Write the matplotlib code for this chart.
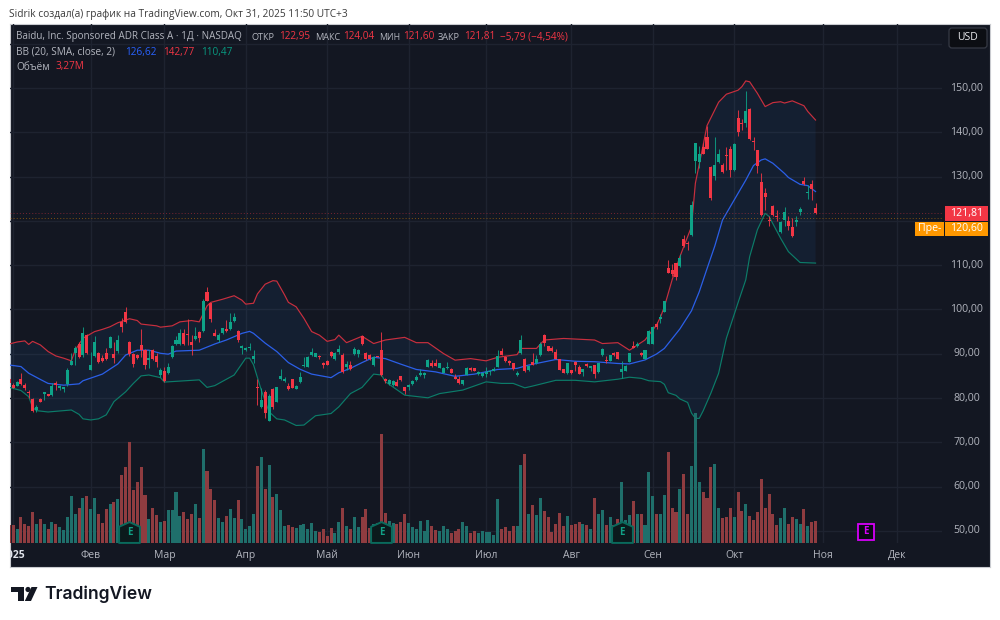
import numpy as np
import matplotlib
matplotlib.use('Agg')
import matplotlib.pyplot as plt
from matplotlib.patches import Rectangle, Polygon, FancyBboxPatch, Circle
from matplotlib.path import Path

plt.rcParams['font.family'] = ['Open Sans', 'DejaVu Sans']

# daily candles, Dec 31 2024 .. Oct 30 2025
opens = [84.3, 82.9, 82.8, 84.4, 82.9, 81.4, 79.7, 77.2, 79.8, 81.0,
         80.9, 80.6, 83.5, 82.2, 82.1, 83.2, 87.5, 90.1, 92.2, 89.7,
         94.3, 86.3, 89.6, 90.1, 89.0, 90.1, 91.4, 89.9, 90.7, 97.2,
         99.5, 92.6, 89.9, 89.8, 92.0, 90.8, 88.6, 90.8, 89.5, 85.2,
         86.2, 85.7, 89.3, 92.2, 92.2, 94.6, 94.4, 92.6, 93.4, 95.0,
         95.1, 104.0, 101.4, 94.6, 93.2, 94.6, 95.6, 95.5, 97.5, 95.1,
         91.2, 90.8, 91.2, 88.7, 82.6, 78.0, 81.4, 74.8, 82.0, 79.0,
         84.2, 83.9, 82.7, 84.3, 82.1, 83.6, 87.2, 86.9, 89.7, 89.3,
         89.4, 88.0, 88.4, 90.5, 88.7, 90.5, 89.8, 86.9, 87.4, 89.9,
         89.9, 94.0, 90.1, 89.8, 87.4, 89.4, 90.8, 84.4, 83.1, 82.9,
         83.7, 84.9, 82.5, 82.4, 83.1, 84.0, 85.2, 85.2, 87.05, 87.8,
         88.0, 86.8, 85.7, 86.7, 86.6, 84.8, 84.3, 83.1, 85.2, 86.8,
         86.7, 85.4, 85.0, 85.5, 85.8, 86.2, 87.05, 90.7, 89.3, 88.3,
         87.8, 85.1, 90.1, 88.9, 86.3, 88.1, 87.8, 89.7, 94.3, 91.7,
         91.2, 90.4, 88.7, 86.5, 85.7, 86.3, 88.2, 87.05, 85.9, 87.65,
         86.7, 87.4, 85.85, 89.7, 88.6, 88.4, 90.2, 90.4, 85.85, 86.2,
         88.2, 91.8, 91.7, 90.1, 88.9, 92.2, 92.2, 96.7, 97.8, 99.5,
         109.3, 108.9, 110.4, 109.7, 115.8, 115.0, 116.7, 133.5, 133.4, 136.6,
         139.0, 132.2, 130.1, 133.2, 132.7, 134.8, 136.2, 131.5, 143.3, 142.1,
         142.2, 145.2, 138.0, 136.0, 128.8, 126.4, 120.1, 123.4, 121.0, 117.4,
         120.2, 120.0, 118.7, 119.8, 122.1, 128.9, 126.2, 128.3, 122.95]
closes = [83.3, 82.3, 83.7, 83.1, 82.2, 81.1, 77.1, 78.0, 79.2, 81.3,
          80.5, 82.8, 82.9, 82.7, 82.4, 86.3, 88.3, 91.4, 89.2, 94.6,
          90.1, 87.5, 92.6, 88.2, 88.4, 88.8, 93.7, 89.0, 93.2, 96.1,
          97.2, 89.9, 87.7, 89.0, 90.8, 87.5, 89.0, 88.8, 88.1, 86.3,
          83.9, 86.9, 91.8, 93.2, 94.6, 92.2, 94.2, 92.0, 94.1, 93.5,
          102.0, 102.0, 97.8, 94.0, 94.2, 95.7, 95.1, 97.2, 98.2, 93.1,
          91.8, 91.4, 91.6, 89.6, 82.2, 79.6, 76.6, 80.5, 78.0, 82.4,
          85.0, 84.4, 82.0, 82.3, 82.8, 84.8, 87.4, 89.2, 90.5, 90.1,
          89.2, 87.5, 87.5, 89.5, 90.1, 91.0, 85.9, 87.65, 86.6, 91.0,
          90.8, 92.1, 88.8, 88.8, 89.2, 89.3, 85.2, 83.8, 84.0, 83.8,
          82.8, 84.0, 81.5, 83.0, 83.8, 84.8, 85.7, 85.7, 88.6, 87.2,
          87.3, 87.8, 86.7, 87.05, 85.7, 84.3, 83.3, 84.0, 86.7, 86.3,
          86.1, 85.85, 85.7, 85.9, 86.2, 86.5, 89.5, 89.8, 88.3, 88.0,
          86.5, 85.7, 93.2, 86.1, 87.3, 87.5, 88.7, 92.3, 92.5, 90.7,
          90.6, 88.9, 86.4, 85.7, 87.8, 85.7, 87.4, 85.5, 86.45, 87.3,
          87.2, 85.5, 87.8, 91.0, 88.3, 89.7, 89.8, 88.8, 86.5, 87.3,
          90.1, 91.4, 92.2, 89.7, 90.8, 95.1, 96.1, 96.0, 98.2, 101.8,
          108.3, 108.0, 107.3, 111.6, 114.4, 114.7, 123.6, 137.5, 135.1, 135.1,
          136.3, 125.1, 132.7, 135.2, 131.1, 134.6, 131.5, 137.3, 140.0, 141.9,
          144.7, 138.5, 137.8, 132.3, 121.3, 125.4, 119.9, 121.3, 120.8, 119.8,
          122.0, 118.9, 116.6, 120.3, 122.6, 128.3, 126.6, 127.3, 121.81]
highs = [84.6, 83.3, 83.8, 85.6, 83.3, 81.7, 79.9, 78.4, 80.1, 81.4,
         81.0, 83.3, 83.9, 82.9, 82.6, 86.7, 90.1, 91.7, 92.7, 96.1,
         94.5, 90.5, 94.1, 90.4, 89.7, 91.4, 94.0, 92.7, 94.2, 98.0,
         100.5, 92.8, 90.1, 89.9, 95.5, 91.0, 90.8, 91.1, 90.1, 86.7,
         87.1, 87.8, 92.0, 93.9, 95.5, 95.5, 97.9, 94.2, 96.1, 95.1,
         102.3, 105.0, 101.5, 95.5, 94.6, 95.8, 97.6, 99.3, 99.3, 95.4,
         92.0, 91.6, 92.5, 90.8, 84.3, 82.2, 81.7, 81.0, 82.2, 82.6,
         86.5, 84.8, 83.5, 84.4, 82.9, 85.9, 89.2, 89.5, 91.4, 90.2,
         89.8, 88.2, 88.5, 90.6, 90.3, 92.0, 90.1, 88.3, 88.3, 91.6,
         91.1, 94.3, 90.3, 90.0, 89.4, 89.5, 94.8, 84.6, 84.4, 84.1,
         84.2, 85.0, 82.6, 83.2, 84.0, 85.1, 86.5, 85.9, 88.9, 88.6,
         88.9, 88.0, 86.9, 88.2, 86.8, 85.5, 85.0, 84.1, 86.9, 87.0,
         86.8, 86.0, 85.8, 87.0, 86.4, 87.0, 90.8, 91.4, 89.4, 88.6,
         87.9, 86.0, 94.2, 89.0, 87.5, 90.2, 89.8, 92.6, 94.4, 91.8,
         91.7, 91.0, 88.8, 86.6, 88.0, 86.4, 88.3, 87.5, 86.5, 88.0,
         87.3, 87.5, 87.9, 91.2, 89.4, 89.8, 90.5, 90.5, 88.3, 87.4,
         90.2, 92.9, 92.6, 90.4, 90.9, 95.3, 96.2, 97.2, 99.0, 102.0,
         111.2, 110.2, 110.5, 112.5, 116.9, 115.5, 124.5, 137.6, 136.9, 137.5,
         141.5, 132.4, 139.0, 136.3, 133.0, 136.6, 136.8, 137.5, 145.0, 143.0,
         149.3, 145.4, 139.0, 136.1, 130.8, 127.5, 121.2, 123.6, 122.5, 120.0,
         123.2, 121.0, 120.6, 121.2, 123.2, 129.8, 128.0, 129.2, 124.04]
lows = [83.0, 82.2, 82.7, 83.0, 81.7, 79.9, 76.9, 76.9, 79.1, 79.6,
        80.4, 80.5, 81.7, 81.7, 81.4, 82.7, 87.4, 87.5, 89.1, 89.2,
        89.9, 86.3, 89.3, 88.0, 88.2, 88.6, 91.2, 88.0, 90.2, 94.8,
        97.0, 89.6, 86.9, 88.9, 89.3, 86.6, 86.7, 88.6, 87.1, 84.8,
        83.7, 85.4, 89.1, 92.0, 92.0, 92.0, 92.0, 89.7, 93.1, 92.7,
        95.0, 101.8, 97.2, 93.9, 92.7, 94.5, 95.0, 95.4, 97.2, 92.6,
        89.9, 90.7, 90.8, 87.8, 78.4, 77.7, 75.4, 74.8, 77.5, 79.0,
        84.1, 83.7, 81.7, 82.2, 82.0, 83.5, 86.9, 86.9, 89.5, 89.2,
        88.8, 86.8, 87.4, 89.3, 88.6, 90.0, 85.7, 86.3, 86.4, 89.7,
        89.2, 92.0, 88.6, 88.5, 87.3, 89.2, 85.0, 83.3, 82.9, 82.8,
        82.7, 83.9, 81.0, 81.7, 83.0, 83.9, 84.9, 84.5, 87.0, 87.1,
        87.2, 86.7, 85.6, 86.5, 85.6, 84.2, 83.2, 83.0, 85.1, 86.2,
        86.0, 85.2, 84.7, 84.8, 85.1, 86.0, 87.0, 89.7, 88.2, 87.5,
        86.4, 85.0, 90.0, 85.8, 86.1, 87.4, 87.7, 89.6, 91.8, 90.6,
        90.5, 88.8, 86.3, 85.6, 85.5, 85.5, 86.0, 85.4, 85.0, 87.0,
        86.0, 84.5, 85.7, 89.6, 88.0, 88.3, 89.5, 88.7, 84.6, 86.1,
        88.1, 91.3, 91.6, 89.4, 88.8, 92.1, 92.1, 95.6, 97.0, 99.4,
        108.2, 107.5, 106.7, 109.5, 114.2, 113.4, 116.6, 130.8, 132.0, 135.0,
        136.2, 124.8, 129.2, 133.0, 130.9, 131.5, 130.0, 131.3, 139.2, 140.5,
        141.2, 138.3, 136.1, 130.7, 121.0, 122.5, 118.9, 121.0, 119.9, 117.3,
        118.8, 118.0, 116.3, 118.8, 121.3, 128.0, 125.0, 124.8, 121.60]

# volume in millions
volumes = [2.7, 2.7, 2.1, 3.9, 2.8, 2.6, 4.7, 2.9, 3.6, 2.8,
           2.1, 3.1, 2.8, 2.4, 2.0, 3.9, 7.0, 4.4, 5.2, 6.7,
           7.0, 5.1, 6.7, 4.4, 3.0, 5.1, 5.8, 6.2, 6.6, 10.1,
           11.3, 15.0, 7.9, 9.1, 11.4, 7.2, 3.6, 5.3, 4.2, 3.2,
           3.3, 4.9, 4.9, 7.7, 4.1, 4.6, 3.6, 4.4, 5.8, 3.8,
           14.0, 10.7, 8.0, 6.4, 3.8, 3.2, 4.1, 5.1, 3.8, 6.4,
           3.6, 2.2, 2.6, 4.4, 11.5, 12.8, 8.1, 11.6, 6.9, 7.3,
           5.0, 2.6, 2.7, 2.4, 2.3, 2.7, 2.9, 2.1, 3.0, 1.8,
           1.7, 2.2, 1.1, 2.3, 1.6, 3.1, 5.2, 2.6, 2.1, 3.9,
           2.4, 3.9, 5.1, 2.3, 2.8, 3.0, 16.2, 4.5, 3.3, 3.0,
           2.9, 3.2, 4.4, 3.0, 2.4, 2.1, 3.3, 1.8, 3.5, 2.5,
           2.0, 1.8, 2.5, 2.2, 1.6, 1.8, 2.2, 3.2, 2.6, 1.5,
           1.8, 1.6, 1.8, 1.7, 1.7, 1.2, 6.6, 2.1, 2.4, 1.8,
           2.5, 2.5, 11.7, 13.3, 4.4, 5.7, 4.2, 6.8, 4.8, 3.9,
           1.7, 2.9, 4.5, 2.6, 4.1, 2.7, 2.8, 3.2, 2.9, 2.7,
           2.1, 6.8, 4.4, 4.9, 2.7, 3.9, 2.7, 3.6, 9.1, 3.5,
           4.2, 6.3, 4.4, 4.3, 2.7, 10.6, 7.0, 4.3, 4.3, 7.2,
           13.5, 5.2, 4.7, 8.1, 10.3, 4.3, 11.5, 19.3, 9.1, 7.6,
           6.8, 11.3, 11.8, 5.2, 3.7, 3.9, 5.3, 3.9, 7.6, 4.8,
           5.9, 4.1, 3.4, 4.6, 9.5, 5.2, 7.4, 4.4, 2.7, 3.8,
           5.2, 2.8, 3.9, 3.6, 2.9, 5.1, 2.5, 3.2, 3.27]

# Bollinger bands: (bar number, value) as read at the bends of each line
bb_upper_k = [0, 2, 4, 5, 6, 8, 10, 12, 14, 16, 17, 19, 22, 24, 26, 28, 31, 33, 34, 38,
              39, 42, 44, 47, 49, 51, 52, 55, 58, 60, 61, 63, 64, 66, 68, 69, 71, 72, 74, 76,
              78, 80, 82, 84, 85, 87, 91, 94, 97, 102, 105, 108, 112, 115, 119, 123, 126, 131, 132, 136,
              138, 143, 151, 153, 157, 160, 164, 167, 168, 169, 171, 173, 174, 176, 177, 179, 180, 183, 185, 188,
              189, 190, 191, 193, 195, 197, 199, 200, 202, 205, 206, 208]
bb_upper = [92.2, 92.65, 92.9, 92.1, 92.8, 92.0, 90.5, 89.5, 89.0, 88.4, 90.8, 93.5, 95.0, 95.5, 96.1, 97.0, 97.9, 97.5, 96.7, 96.3,
            96.0, 96.3, 97.2, 97.5, 97.2, 100.8, 101.6, 102.3, 103.1, 102.1, 101.2, 101.4, 103.5, 105.7, 106.5, 106.4, 103.3, 101.6, 100.6, 98.0,
            95.0, 94.2, 92.8, 93.2, 94.2, 92.5, 93.95, 92.3, 93.1, 93.7, 92.5, 92.5, 90.05, 88.55, 88.9, 88.4, 89.2, 89.8, 91.2, 91.2,
            93.1, 93.45, 93.1, 92.3, 92.5, 90.8, 93.1, 96.5, 98.3, 100.6, 106.7, 111.9, 114.2, 118.7, 128.5, 137.1, 141.5, 146.8, 148.6, 149.5,
            150.3, 151.6, 151.4, 148.8, 145.8, 146.7, 146.9, 146.6, 147.1, 146.0, 144.7, 142.77]
bb_mid_k = [0, 3, 5, 8, 10, 14, 18, 19, 24, 28, 30, 33, 36, 39, 41, 43, 49, 53, 56, 60,
            62, 63, 66, 69, 72, 75, 78, 83, 85, 88, 91, 94, 97, 101, 105, 110, 115, 120, 126, 131,
            134, 141, 146, 151, 157, 160, 164, 167, 169, 173, 176, 178, 180, 182, 184, 187, 190, 192, 194, 195,
            197, 200, 201, 204, 206, 208]
bb_mid = [87.45, 87.1, 85.6, 84.2, 83.3, 82.9, 83.2, 83.9, 85.4, 87.7, 89.7, 90.8, 90.8, 90.1, 89.9, 90.6, 90.8, 92.2, 93.1, 94.6,
          95.05, 94.6, 92.4, 90.5, 88.0, 86.5, 85.4, 84.6, 85.7, 86.7, 88.0, 89.2, 88.9, 87.65, 86.45, 85.9, 84.9, 85.4, 86.45, 86.7,
          87.45, 88.7, 88.3, 88.2, 87.8, 87.7, 88.6, 89.95, 91.2, 95.6, 99.7, 104.0, 109.2, 114.3, 120.2, 124.7, 129.2, 132.5, 133.75, 134.0,
          133.0, 130.7, 129.8, 128.25, 127.95, 126.62]
bb_lower_k = [0, 3, 5, 6, 7, 10, 16, 18, 19, 21, 23, 25, 27, 30, 32, 34, 36, 39, 40, 49,
              51, 53, 58, 61, 62, 63, 65, 67, 69, 71, 74, 76, 79, 83, 85, 88, 91, 94, 96, 97,
              102, 108, 111, 117, 123, 127, 130, 133, 135, 141, 146, 151, 157, 160, 163, 165, 168, 169, 170, 172,
              173, 175, 176, 177, 178, 179, 181, 183, 185, 188, 190, 191, 193, 195, 196, 199, 201, 204, 208]
bb_lower = [82.4, 81.7, 80.3, 77.9, 77.15, 76.85, 77.3, 76.3, 75.3, 75.05, 75.3, 76.2, 79.2, 81.4, 83.3, 85.0, 85.2, 84.6, 83.6, 84.1,
            82.4, 82.8, 85.2, 89.0, 89.0, 87.5, 81.8, 76.9, 75.3, 75.05, 73.8, 73.9, 76.0, 76.5, 78.0, 81.0, 82.4, 85.4, 85.2, 83.7,
            80.65, 80.05, 81.0, 81.8, 83.65, 83.3, 83.3, 82.3, 82.7, 84.0, 84.0, 83.65, 84.25, 84.7, 84.45, 83.9, 83.7, 83.1, 81.2, 80.6,
            79.8, 79.0, 76.6, 75.4, 75.4, 77.1, 81.1, 85.6, 93.5, 101.5, 106.7, 111.9, 118.0, 121.7, 121.0, 116.06, 113.05, 110.6, 110.47]

month_k = [1, 21, 40, 61, 82, 103, 123, 145, 166, 187, 210, 229]
month_labels = ['2025', 'Фев', 'Мар', 'Апр', 'Май', 'Июн', 'Июл', 'Авг', 'Сен', 'Окт', 'Ноя', 'Дек']
price_ticks = [50, 60, 70, 80, 90, 100, 110, 130, 140, 150]
last_close = 121.81
pre_market = 120.60
earnings_k = [31, 96, 158]
next_earnings_k = 221

BG = '#131722'
RED = '#f23645'
GREEN = '#089981'
BLUE = '#2962ff'
GRID = '#1e2330'

W, H = 1000, 620
fig = plt.figure(figsize=(10, 6.2), dpi=100, facecolor='white')


def box(x0, y0, x1, y1):
    # pixel box (y from the top) to figure fractions
    return [x0 / W, 1 - y1 / H, (x1 - x0) / W, (y1 - y0) / H]


k = np.arange(len(closes))
o, c, hi, lo, vol = map(np.array, (opens, closes, highs, lows, volumes))
up = c >= o

# one bar is 3.876 px, bar 0 sits at x=9.33
x_min, x_max = (10 - 9.33) / 3.876, (942 - 9.33) / 3.876

panel = fig.add_axes(box(9.5, 24, 990.5, 567), facecolor=BG)
panel.set_xticks([])
panel.set_yticks([])
for s in panel.spines.values():
    s.set_color('#c9cbd0')
    s.set_linewidth(0.8)

ax = fig.add_axes(box(10, 24, 942, 543.3), facecolor='none')
ax.set_xlim(x_min, x_max)
ax.set_ylim(47.2, 164.45)
ax.axis('off')
for m in month_k:
    ax.axvline(m, color=GRID, lw=1, zorder=1)
for p in range(50, 170, 10):
    ax.axhline(p, color=GRID, lw=1, zorder=1)

# band fill, then the three lines
ax.fill(np.r_[bb_upper_k, bb_lower_k[::-1]], np.r_[bb_upper, bb_lower[::-1]],
        color='#2a7fd0', alpha=0.085, lw=0, zorder=2)
ax.plot(bb_upper_k, bb_upper, color='#c92f3e', lw=0.85, zorder=3)
ax.plot(bb_lower_k, bb_lower, color='#0c7c69', lw=0.85, zorder=3)
ax.plot(bb_mid_k, bb_mid, color='#2b5fe8', lw=0.9, zorder=3)

# last price and premarket lines
ax.axhline(last_close, color=RED, lw=0.7, ls=(0, (1, 2.2)), alpha=0.45, zorder=3)
ax.axhline(pre_market, color='#ff9800', lw=0.7, ls=(0, (1, 2.2)), alpha=0.45, zorder=3)

colors = np.where(up, '#0ea388', RED)
ax.vlines(k, lo, hi, colors=colors, lw=0.75, alpha=0.85, zorder=4)
ax.bar(k, np.abs(c - o), bottom=np.minimum(o, c), width=0.78, color=colors, lw=0, zorder=5)

# volume shares the plot box, its own hidden scale
ax_vol = fig.add_axes(box(10, 24, 942, 543.3), facecolor='none')
ax_vol.set_xlim(x_min, x_max)
ax_vol.set_ylim(0, 77.2)
ax_vol.axis('off')
ax_vol.bar(k, vol, width=0.78, color=np.where(up, '#1f6f6b', '#8f3c40'), lw=0, zorder=2)

# earnings marks
house = Path([(0, 1.0), (1, 0.55), (1, -1.0), (-1, -1.0), (-1, 0.55), (0, 1.0)], closed=True)
for e in earnings_k:
    ax_vol.plot([e], [1.75], marker=house, ms=15, mfc='#0b1a1c', mec='#0a6a5c', mew=1.4, zorder=5)
    ax_vol.text(e, 1.6, 'E', color='#11a085', fontsize=7, fontweight='bold', ha='center', va='center', zorder=6)
ax_vol.plot([next_earnings_k], [1.75], marker='s', ms=11.5, mfc='#0a0a14', mec='#d500f9', mew=1.3, zorder=5)
ax_vol.text(next_earnings_k, 1.7, 'E', color='#d500f9', fontsize=7, fontweight='bold', ha='center', va='center', zorder=6)

# time scale
ax_time = fig.add_axes(box(10, 543.3, 942, 567), facecolor='none')
ax_time.set_xlim(x_min, x_max)
ax_time.set_ylim(1, 0)
ax_time.axis('off')
for m, lab in zip(month_k, month_labels):
    bold = lab == '2025'
    ax_time.text(m, 0.5, lab, color='#e0e3eb' if bold else '#b2b5be', fontsize=7.5,
                 fontweight='bold' if bold else 'normal', ha='center', va='center', clip_on=True)

# everything else is placed in pixels
ov = fig.add_axes([0, 0, 1, 1], facecolor='none')
ov.set_xlim(0, W)
ov.set_ylim(H, 0)
ov.axis('off')


def label(x, y, s, color='#b2b5be', size=7.2, **kw):
    ov.text(x, y, s, color=color, fontsize=size, va='center', **kw)


label(9, 14, 'Sidrik создал(а) график на TradingView.com, Окт 31, 2025 11:50 UTC+3', '#3a3a3a', 7.3)
label(16, 37, 'Baidu, Inc. Sponsored ADR Class A · 1Д · NASDAQ', size=7.1)
label(252, 37, 'ОТКР', size=6.6)
label(279, 37, '122,95', RED)
label(315, 37, 'МАКС', size=6.6)
label(343, 37, '124,04', RED)
label(379, 37, 'МИН', size=6.3)
label(403, 37, '121,60', RED)
label(438, 37, 'ЗАКР', size=6.6)
label(464, 37, '121,81', RED)
label(500, 37, '−5,79 (−4,54%)', RED)
label(16, 52, 'BB (20, SMA, close, 2)')
label(125, 52, '126,62', BLUE)
label(163, 52, '142,77', RED)
label(201, 52, '110,47', GREEN)
label(16, 67, 'Объём')
label(55, 67, '3,27M', RED)

# USD button
ov.add_patch(FancyBboxPatch((949, 28), 38, 20, boxstyle='round,pad=0,rounding_size=3',
                            fc='#0c0e13', ec='#363a45', lw=0.9))
label(968, 38, 'USD', '#e8e9ed', 7.5, ha='center')

# price scale labels, px = 88 + (150 - p) * 4.43
for p in price_ticks:
    label(966.5, 88 + (150 - p) * 4.43, f'{p},00', '#b2b5be', 7.6, ha='center')

ov.add_patch(Rectangle((945, 206), 43, 15, fc=RED, ec='none'))
label(966.5, 213.5, '121,81', 'white', 7.6, ha='center')
ov.add_patch(Rectangle((915, 222), 29, 14, fc='#ff9800', ec='none'))
label(929.5, 229, 'Пре-', 'white', 7.6, ha='center')
ov.add_patch(Rectangle((945, 222), 43, 14, fc='#ff9800', ec='none'))
label(966.5, 229, '120,60', 'white', 7.6, ha='center')

# logo
logo = '#131722'
ov.add_patch(Polygon([(11, 587), (24, 587), (24, 601), (17.5, 601), (17.5, 592), (11, 592)], fc=logo, ec='none'))
ov.add_patch(Circle((28, 589.5), 2.6, fc=logo, ec='none'))
ov.add_patch(Polygon([(31.5, 587), (37.5, 587), (31, 601), (24.8, 601)], fc=logo, ec='none'))
ov.text(44, 594, 'TradingView', color=logo, fontsize=12.6, fontweight='semibold',
        family=['Inter', 'DejaVu Sans'], va='center')

fig.savefig('out.png', dpi=100, facecolor='white')
